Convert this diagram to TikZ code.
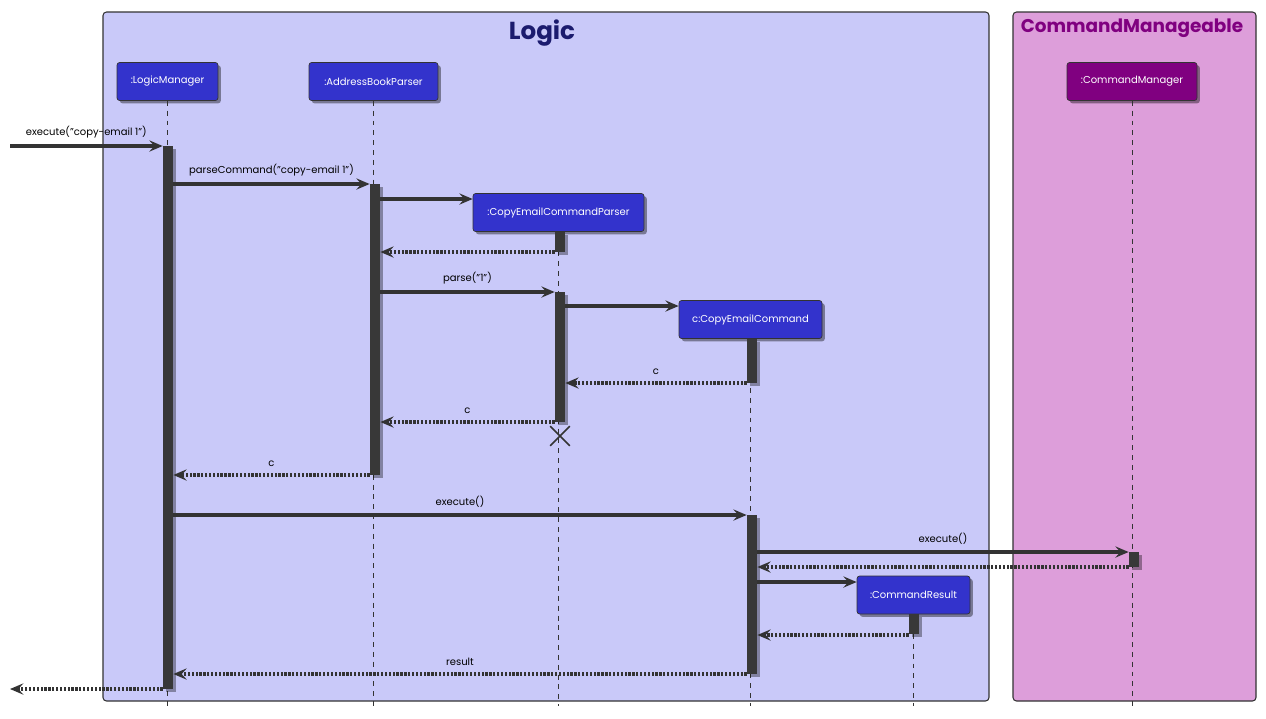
\documentclass[tikz,border=0pt]{standalone}
\usepackage{fontspec}
\setmainfont{Poppins}
\usetikzlibrary{arrows.meta,shadows,fit,shapes.misc}
\definecolor{logicfill}{HTML}{C9C9F9}
\definecolor{cmfill}{HTML}{DD9EDA}
\definecolor{partblue}{HTML}{3333CC}
\definecolor{partpurple}{HTML}{800080}
\definecolor{logictitle}{HTML}{1B1B6E}
\definecolor{bargray}{HTML}{383838}
\definecolor{linegray}{HTML}{333333}
\tikzset{
    part/.style={draw=linegray, fill=partblue, text=white, rounded corners=1.5pt,
        minimum height=0.76cm, inner sep=0pt, font=\fontsize{5.7}{6}\selectfont,
        drop shadow={shadow xshift=1.6pt, shadow yshift=-1.6pt, opacity=.4, fill=black}},
    actbar/.style={fill=bargray, inner sep=0pt,
        drop shadow={shadow xshift=1.6pt, shadow yshift=-1.6pt, opacity=.35, fill=black}},
    frame/.style={draw=linegray, line width=0.6pt, rounded corners=2pt, inner sep=0pt},
    life/.style={draw=linegray, line width=0.45pt, dash pattern=on 2.8pt off 2.8pt},
    msg/.style={->, draw=linegray, line width=1.85pt},
    ret/.style={msg, dash pattern=on 1.3pt off 0.9pt},
    lbl/.style={above=2.6pt, inner sep=1pt, text=black, font=\fontsize{5.7}{6}\selectfont}
}
\begin{document}
\begin{tikzpicture}[x=0.02cm, y=-0.02cm, >={Stealth[length=7.6pt, width=6.4pt, inset=2.9pt]}]
    \useasboundingbox (0,0) rectangle (1266,718);
    
    % boxes
    \node[frame, fill=logicfill, fit={(103,12) (989,701)}] (logicbox) {};
    \node[frame, fill=cmfill, fit={(1013,12) (1256,701)}] (cmbox) {};
    \node[text=logictitle, font=\bfseries\fontsize{14}{15}\selectfont] (logicT) at (542,33) {Logic};
    \node[text=partpurple, font=\bfseries\fontsize{10.5}{12}\selectfont] (cmT) at (1132,28) {CommandManageable};
    
    % participants
    \node[part, minimum width=2.02cm] (lm) at (167.5,81.5) {:LogicManager};
    \node[part, minimum width=2.58cm] (abp) at (373.5,81.5) {:AddressBookParser};
    \node[part, minimum width=3.42cm] (cecp) at (558.5,212.5) {:CopyEmailCommandParser};
    \node[part, minimum width=2.86cm] (cec) at (750.5,319.5) {c:CopyEmailCommand};
    \node[part, minimum width=2.26cm] (cr) at (913.5,595) {:CommandResult};
    \node[part, fill=partpurple, minimum width=2.6cm] (cm) at (1132,81.5) {:CommandManager};
    
    % lifelines
    \foreach \p in {lm,abp,cecp,cec,cr,cm}
    {
        \draw[life] (\p.south) -- (\p.south |- 0,706);
    }
    
    % activations
    \node[actbar, fit={(163,146) (173,689)}] (lmA) {};
    \node[actbar, fit={(370,184) (380,475)}] (abpA) {};
    \node[actbar, fit={(555,232) (565,252)}] (cecpA) {};
    \node[actbar, fit={(555,292) (565,422)}] (cecpB) {};
    \node[actbar, fit={(747,339) (757,383)}] (cecA) {};
    \node[actbar, fit={(747,515) (757,674)}] (cecB) {};
    \node[actbar, fit={(1129,552) (1139,567)}] (cmA) {};
    \node[actbar, fit={(909,614) (919,634)}] (crA) {};
    \node[draw=linegray, line width=0.9pt, cross out, minimum size=0.36cm, inner sep=0pt] (cecpX) at (560,436) {};
    
    % messages
    \coordinate (inL) at (10,146);
    \coordinate (outL) at (10,689);
    \draw[msg] (inL) -- node[lbl]{execute("copy-email 1")} (lmA.west |- inL);
    \draw[msg] (lmA.east |- 0,184) -- node[lbl]{parseCommand("copy-email 1")} (abpA.west |- 0,184);
    \draw[msg] (abpA.east |- 0,199) -- (cecp.west |- 0,199);
    \draw[ret] (cecpA.west |- 0,252) -- (abpA.east |- 0,252);
    \draw[msg] (abpA.east |- 0,292) -- node[lbl]{parse("1")} (cecpB.west |- 0,292);
    \draw[msg] (cecpB.east |- 0,306) -- (cec.west |- 0,306);
    \draw[ret] (cecA.west |- 0,383) -- node[lbl]{c} (cecpB.east |- 0,383);
    \draw[ret] (cecpB.west |- 0,422) -- node[lbl]{c} (abpA.east |- 0,422);
    \draw[ret] (abpA.west |- 0,475) -- node[lbl]{c} (lmA.east |- 0,475);
    \draw[msg] (lmA.east |- 0,515) -- node[lbl]{execute()} (cecB.west |- 0,515);
    \draw[msg] (cecB.east |- 0,552) -- node[lbl]{execute()} (cmA.west |- 0,552);
    \draw[ret] (cmA.west |- 0,567) -- (cecB.east |- 0,567);
    \draw[msg] (cecB.east |- 0,582) -- (cr.west |- 0,582);
    \draw[ret] (crA.west |- 0,635) -- (cecB.east |- 0,635);
    \draw[ret] (cecB.west |- 0,674) -- node[lbl]{result} (lmA.east |- 0,674);
    \draw[ret] (lmA.west |- outL) -- (outL);
    
\end{tikzpicture}
\end{document}
